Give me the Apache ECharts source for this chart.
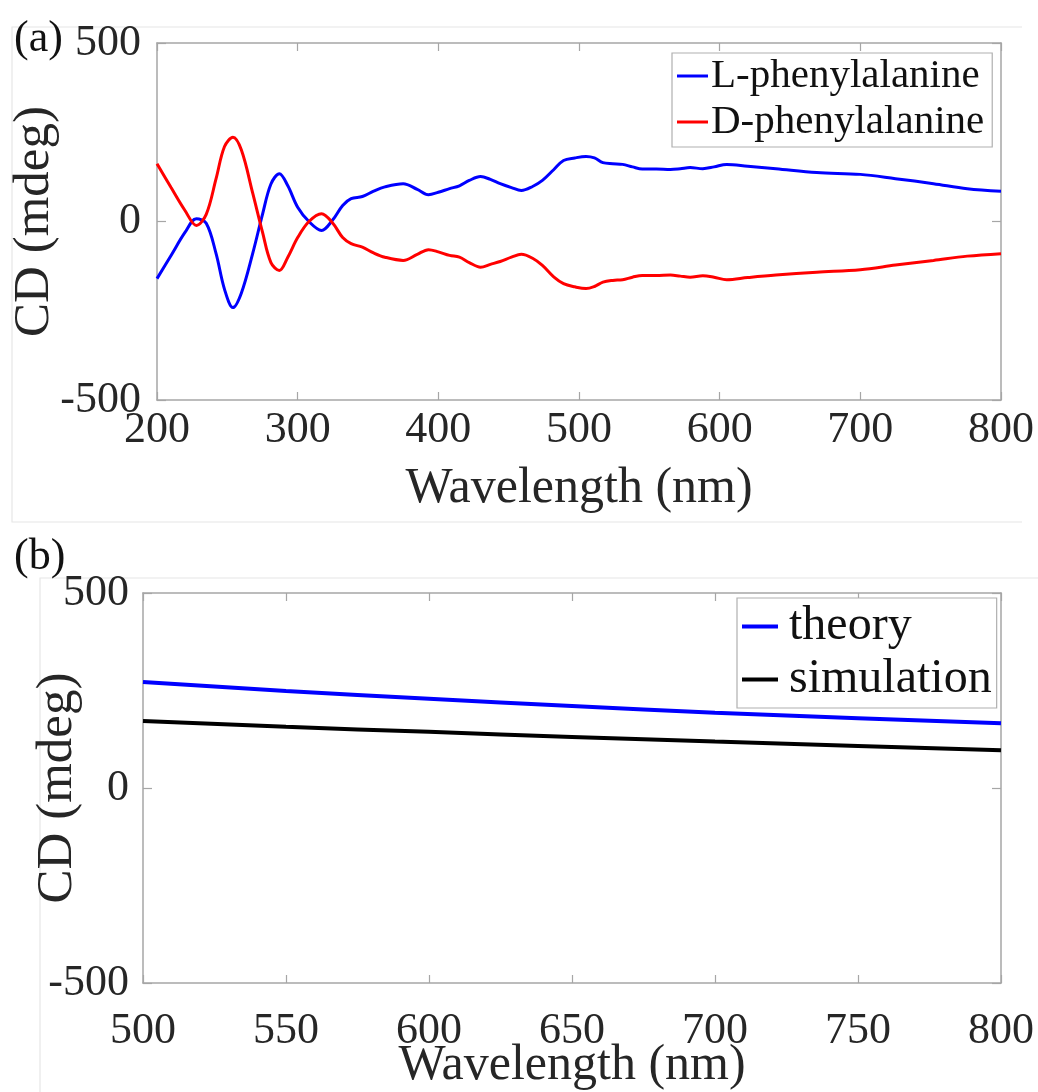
<!DOCTYPE html>
<html>
<head>
<meta charset="utf-8">
<script src="https://cdn.jsdelivr.net/npm/echarts@6/dist/echarts.min.js"></script>
<style>html,body{margin:0;padding:0;background:#fff;}#c{width:1038px;height:1092px;}</style>
</head>
<body>
<div id="c"></div>
<script>
// Panel (a): wavelength (nm) and CD (mdeg)
const wlA = [200,210,220,228,235,242,248,254,260,268,275,281,287,293,300,308,317,325,332,338,346,354,362,375,385,393,400,408,415,422,430,437,444,452,459,467,474,482,489,497,505,511,517,524,531,538,545,555,565,572,579,588,596,605,620,640,669,700,725,752,776,800];
const lPhe = [-160,-95,-30,8,-5,-90,-190,-241,-200,-90,20,105,134,100,40,0,-25,5,45,64,70,85,97,106,90,75,82,92,100,115,126,118,106,95,87,98,115,145,171,178,182,178,165,162,160,153,147,147,146,148,151,148,153,160,155,148,137,132,120,106,92,85];
const dPhe = [162,95,30,-11,20,120,210,236,200,80,-30,-115,-137,-100,-45,0,22,-5,-45,-62,-72,-88,-100,-109,-92,-79,-85,-95,-100,-115,-128,-120,-112,-100,-92,-103,-123,-155,-174,-183,-188,-182,-170,-165,-163,-156,-151,-151,-150,-153,-156,-152,-156,-163,-157,-150,-142,-135,-122,-109,-97,-90];
// Panel (b)
const wlB = [500,550,600,650,700,750,800];
const theory = [272,249,229,210,193,179,166];
const simulation = [172,157,144,131,119,108,97];
const namesA = ['L-phenylalanine','D-phenylalanine'];
const namesB = ['theory','simulation'];

const FONT = '"Liberation Serif","Times New Roman",serif';
const TXT = '#262626';
const AX = '#a6a6a6';

function pairs(x, y){ return x.map((v,i)=>[v,y[i]]); }

function xAxisPair(gi, min, max, interval, labelMargin, nameGap){
  return [
    {gridIndex:gi, type:'value', position:'bottom', min:min, max:max, interval:interval,
     axisLine:{show:true, onZero:false, lineStyle:{color:AX, width:1.5}},
     axisTick:{show:true, inside:true, length:8, lineStyle:{color:AX, width:1.2}},
     splitLine:{show:false},
     axisLabel:{fontFamily:FONT, fontSize:44, color:TXT, margin:labelMargin},
     name:'Wavelength (nm)', nameLocation:'middle', nameGap:nameGap, nameMoveOverlap:false,
     nameTextStyle:{fontFamily:FONT, fontSize:50, color:TXT}},
    {gridIndex:gi, type:'value', position:'top', min:min, max:max, interval:interval,
     axisLine:{show:true, onZero:false, lineStyle:{color:AX, width:1.5}},
     axisTick:{show:true, inside:true, length:8, lineStyle:{color:AX, width:1.2}},
     splitLine:{show:false}, axisLabel:{show:false}}
  ];
}
function yAxisPair(gi, labelMargin, nameGap){
  return [
    {gridIndex:gi, type:'value', position:'left', min:-500, max:500, interval:500,
     axisLine:{show:true, onZero:false, lineStyle:{color:AX, width:1.5}},
     axisTick:{show:true, inside:true, length:9, lineStyle:{color:AX, width:1.2}},
     splitLine:{show:false},
     axisLabel:{fontFamily:FONT, fontSize:44, color:TXT, margin:labelMargin},
     name:'CD (mdeg)', nameLocation:'middle', nameGap:nameGap, nameMoveOverlap:false,
     nameTextStyle:{fontFamily:FONT, fontSize:51, color:TXT}},
    {gridIndex:gi, type:'value', position:'right', min:-500, max:500, interval:500,
     axisLine:{show:true, onZero:false, lineStyle:{color:AX, width:1.5}},
     axisTick:{show:true, inside:true, length:9, lineStyle:{color:AX, width:1.2}},
     splitLine:{show:false}, axisLabel:{show:false}}
  ];
}

const chart = echarts.init(document.getElementById('c'), null, {renderer:'canvas'});
const option = {
  backgroundColor:'#ffffff',
  animation:false,
  grid:[
    {left:157, top:43, width:844, height:357},
    {left:143, top:593, width:858, height:390}
  ],
  xAxis:[...xAxisPair(0,200,800,100,8,64), ...xAxisPair(1,500,800,50,26,58)],
  yAxis:[...yAxisPair(0,16,97), ...yAxisPair(1,14,60)],
  legend:[
    {data:namesA.map(n=>({name:n})), orient:'vertical', left:672, top:53,
     padding:[0,8,2,5], itemGap:0, itemWidth:31, itemHeight:3, icon:'rect',
     backgroundColor:'#fff', borderColor:'#b0b0b0', borderWidth:1.2,
     textStyle:{fontFamily:FONT, fontSize:41, color:'#111', lineHeight:46, padding:[0,0,0,-2]}},
    {data:namesB.map(n=>({name:n})), orient:'vertical', left:737, top:598,
     padding:[2,5,2,5], itemGap:0, itemWidth:36, itemHeight:4, icon:'rect',
     backgroundColor:'#fff', borderColor:'#b0b0b0', borderWidth:1.2,
     textStyle:{fontFamily:FONT, fontSize:48, color:'#111', lineHeight:53, padding:[0,0,0,6]}}
  ],
  graphic:[
    {type:'polyline', shape:{points:[[1022,27],[12,27],[12,522],[1022,522]]}, style:{stroke:'#e6e6e6', lineWidth:1.2, fill:null}, silent:true, z:-1},
    {type:'polyline', shape:{points:[[1038,578],[40,578],[40,1092]]}, style:{stroke:'#e6e6e6', lineWidth:1.2, fill:null}, silent:true, z:-1},
    {type:'text', left:14, top:17, style:{text:'(a)', font:'44px '+FONT, fill:'#111'}},
    {type:'text', left:14, top:535, style:{text:'(b)', font:'44px '+FONT, fill:'#111'}}
  ],
  series:[
    {name:namesA[0], type:'line', xAxisIndex:0, yAxisIndex:0, data:pairs(wlA,lPhe), smooth:0.35, showSymbol:false, symbol:'none', color:'#0000ff', lineStyle:{width:3, color:'#0000ff'}},
    {name:namesA[1], type:'line', xAxisIndex:0, yAxisIndex:0, data:pairs(wlA,dPhe), smooth:0.35, showSymbol:false, symbol:'none', color:'#ff0000', lineStyle:{width:3, color:'#ff0000'}},
    {name:namesB[0], type:'line', xAxisIndex:2, yAxisIndex:2, data:pairs(wlB,theory), smooth:true, showSymbol:false, symbol:'none', color:'#0000ff', lineStyle:{width:4, color:'#0000ff'}},
    {name:namesB[1], type:'line', xAxisIndex:2, yAxisIndex:2, data:pairs(wlB,simulation), smooth:true, showSymbol:false, symbol:'none', color:'#000000', lineStyle:{width:4, color:'#000000'}}
  ]
};
chart.setOption(option);
</script>
</body>
</html>
